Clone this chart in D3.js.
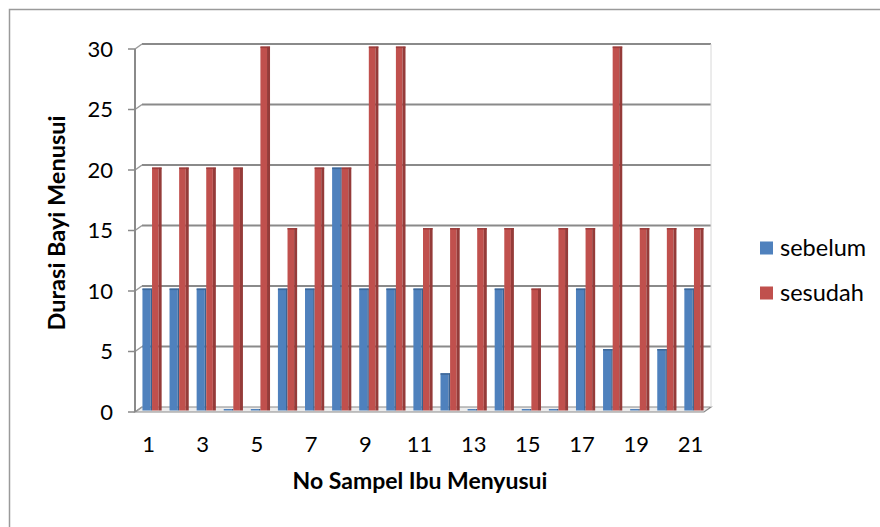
<!DOCTYPE html>
<html><head><meta charset="utf-8">
<script src="https://cdn.jsdelivr.net/npm/d3@7/dist/d3.min.js"></script>
<style>body{margin:0;background:#fff}svg{display:block}text{font-family:Lato,"Liberation Sans",sans-serif}</style>
</head><body>
<svg id="c" width="880" height="527"></svg>
<script>
const categories = d3.range(1, 22).map(String);
const sebelum = [10,10,10,0,0,10,10,20,10,10,10,3,0,10,0,0,10,5,0,5,10];
const sesudah = [20,20,20,20,30,15,20,20,30,30,15,15,15,15,10,15,15,30,15,15,15];
const yTicks = [0,5,10,15,20,25,30];
const seriesNames = ["sebelum","sesudah"];
const colors = ["#4F81BD","#C0504D"];
const darkColors = ["#3A6190","#953B39"];

const svg = d3.select("#c");
// outer border
svg.append("rect").attr("x",9.5).attr("y",9.5).attr("width",880).attr("height",530)
  .attr("fill","none").attr("stroke","#9a9a9a").attr("stroke-width",1.5);

const dx = 7, dy = 5; // depth offset
const xFront = d3.scaleBand().domain(categories).range([135, 704]);
const xMid = d3.scaleBand().domain(categories).range([135+dx/2, 704+dx/2]);
const y = d3.scaleLinear().domain([0,30]).range([409.5, 46.5]);
const yBack = v => y(v) - dy/2;
const yFront = v => y(v) + dy/2;

const g = svg.append("g");
// floor
g.append("path").attr("d", `M135,${yFront(0)}L704,${yFront(0)}L${704+dx},${yBack(0)}L${135+dx},${yBack(0)}Z`)
  .attr("fill","#ececec").attr("stroke","#8a8a8a").attr("stroke-width",1.2);
// back wall gridlines
yTicks.forEach(v=>{
  if (v===0) return;
  g.append("line").attr("x1",135+dx).attr("x2",704+dx).attr("y1",yBack(v)).attr("y2",yBack(v))
    .attr("stroke","#8a8a8a").attr("stroke-width",2);
});
// side wall gridlines (diagonal)
yTicks.forEach(v=>{
  g.append("line").attr("x1",135).attr("x2",135+dx).attr("y1",yFront(v)).attr("y2",yBack(v))
    .attr("stroke","#9a9a9a").attr("stroke-width",1.5);
});
// left axis line and ticks
g.append("line").attr("x1",135).attr("x2",135).attr("y1",yFront(30)).attr("y2",yFront(0))
  .attr("stroke","#8a8a8a").attr("stroke-width",2);
yTicks.forEach(v=>{
  g.append("line").attr("x1",128).attr("x2",135).attr("y1",yFront(v)).attr("y2",yFront(v))
    .attr("stroke","#8a8a8a").attr("stroke-width",1.5);
  g.append("text").attr("x",113).attr("y",yFront(v)).attr("dy","0.35em").attr("text-anchor","end")
    .attr("font-size",22).attr("fill","#000").text(v);
});
// back wall right edge line
g.append("line").attr("x1",704+dx).attr("x2",704+dx).attr("y1",yBack(30)).attr("y2",yBack(0))
  .attr("stroke","#d8d8d8").attr("stroke-width",1);

// bars
const data = [sebelum, sesudah];
const bw = 9.6;
categories.forEach((c,i)=>{
  const cx = xMid(c) + xMid.bandwidth()/2;
  data.forEach((arr,s)=>{
    const v = arr[i];
    const x0 = cx - bw + s*bw;
    const top = y(v);
    const bottom = y(0)+1;
    const h = Math.max(bottom - top, 1.5);
    const t = bottom - h;
    const side = s===1 ? 3 : 1.5;
    g.append("rect").attr("x",x0).attr("y",t).attr("width",bw-side).attr("height",h).attr("fill",colors[s]);
    g.append("rect").attr("x",x0+bw-side).attr("y",t).attr("width",side).attr("height",h).attr("fill",darkColors[s]);
    if (v>0) g.append("rect").attr("x",x0).attr("y",t).attr("width",bw).attr("height",1.6).attr("fill",darkColors[s]).attr("opacity",0.8);
  });
});

// x labels (odd only)
categories.forEach((c,i)=>{
  if (i%2!==0) return;
  g.append("text").attr("x",xFront(c)+xFront.bandwidth()/2).attr("y",444).attr("dy","0.35em")
    .attr("text-anchor","middle").attr("font-size",22).attr("fill","#000").text(c);
});

// axis titles
svg.append("text").attr("x",420).attr("y",481).attr("dy","0.35em").attr("text-anchor","middle")
  .attr("font-size",23).attr("font-weight","bold").text("No Sampel Ibu Menyusui");
svg.append("text").attr("transform","translate(57,223) rotate(-90)").attr("dy","0.35em").attr("text-anchor","middle")
  .attr("font-size",23.5).attr("font-weight","bold").text("Durasi Bayi Menusui");

// legend
seriesNames.forEach((n,i)=>{
  const ly = 248 + i*45;
  svg.append("rect").attr("x",760).attr("y",ly-6.5).attr("width",13).attr("height",13).attr("fill",colors[i]);
  svg.append("text").attr("x",780).attr("y",ly).attr("dy","0.35em").attr("font-size",23.5).text(n);
});
</script>
</body></html>
